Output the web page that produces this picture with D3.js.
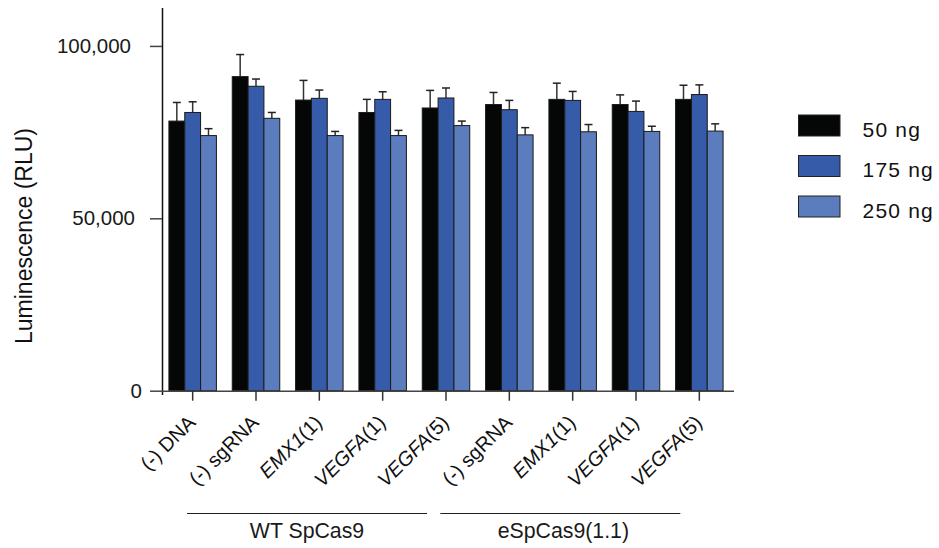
<!DOCTYPE html>
<html><head><meta charset="utf-8">
<script src="https://cdn.jsdelivr.net/npm/d3@7"></script>
<style>body{margin:0;background:#fff;} svg{display:block;}</style>
</head><body>
<svg id="chart" width="939" height="548"></svg>
<script>
const categories = ["(-) DNA","(-) sgRNA","EMX1(1)","VEGFA(1)","VEGFA(5)","(-) sgRNA","EMX1(1)","VEGFA(1)","VEGFA(5)"];
const seriesNames = ["50 ng","175 ng","250 ng"];
const seriesColors = ["#050707","#365ba9","#5b7dbd"];
const values50  = [78200, 91100, 84300, 80700, 82000, 83000, 84500, 83000, 84500];
const values175 = [80700, 88300, 84800, 84500, 84900, 81500, 84200, 81000, 85900];
const values250 = [74000, 79000, 74000, 74000, 76900, 74200, 75100, 75200, 75300];
const err50  = [5400, 6400, 5700, 3800, 5100, 3500, 4700, 2800, 4100];
const err175 = [3100, 2100, 2400, 2200, 2900, 2700, 2600, 3000, 2800];
const err250 = [2000, 1700, 1200, 1500, 1300, 2100, 2100, 1500, 2100];
const yTicks = [0, 50000, 100000];
const groupLabels = ["WT SpCas9","eSpCas9(1.1)"];
const groupFirst = [1, 5];
const groupLast = [4, 8];

const values = [values50, values175, values250];
const errors = [err50, err175, err250];
const font = "'Liberation Sans', Arial, Helvetica, sans-serif";

const svg = d3.select("#chart");
const x0 = d3.scaleBand(d3.range(categories.length), [161, 731]).paddingInner(0.25).paddingOuter(0.125);
const x1 = d3.scaleBand(d3.range(seriesNames.length), [0, x0.bandwidth()]);
const y = d3.scaleLinear([0, 111000], [390.7, 8]);

// bars
const g = svg.append("g");
categories.forEach((c, i) => {
  seriesNames.forEach((s, j) => {
    const v = values[j][i], e = errors[j][i];
    const bx = x0(i) + x1(j);
    const cx = bx + x1.bandwidth() / 2;
    g.append("line").attr("x1", cx).attr("x2", cx).attr("y1", y(v)).attr("y2", y(v + e))
      .attr("stroke", "#333").attr("stroke-width", 1.5);
    g.append("line").attr("x1", cx - 4).attr("x2", cx + 4).attr("y1", y(v + e)).attr("y2", y(v + e))
      .attr("stroke", "#222").attr("stroke-width", 1.5);
    g.append("rect").attr("x", bx).attr("width", x1.bandwidth())
      .attr("y", y(v)).attr("height", y(0) - y(v))
      .attr("fill", seriesColors[j]).attr("stroke", "#1a1a1a").attr("stroke-width", 1);
  });
});

// y axis
const yAxis = svg.append("g").attr("transform", "translate(162,0)")
  .call(d3.axisLeft(y).tickValues(yTicks).tickFormat(d3.format(",")).tickSize(12).tickPadding(19).tickSizeOuter(0));
yAxis.select(".domain").attr("stroke", "#111").attr("stroke-width", 1.5).attr("d", "M0.5,8V395");
yAxis.selectAll(".tick line").attr("stroke", "#444").attr("stroke-width", 1.5);
const labelShift = [11, 4, 0];
yAxis.selectAll(".tick text").attr("font-family", font).attr("font-size", 20.5).attr("fill", "#1a1a1a")
  .attr("dx", (d, i) => labelShift[i]);

// x axis
const xAxis = svg.append("g").attr("transform", `translate(0,${y(0)})`)
  .call(d3.axisBottom(x0).tickSize(10).tickSizeOuter(0).tickFormat(""));
xAxis.select(".domain").attr("stroke", "#444").attr("stroke-width", 1.5).attr("d", `M162,0.5H734`);
xAxis.selectAll(".tick line").attr("stroke", "#333").attr("stroke-width", 1.5);

// category labels
categories.forEach((c, i) => {
  const cx = x0(i) + x0.bandwidth() / 2;
  const t = svg.append("text").attr("font-family", font).attr("font-size", 20).attr("fill", "#111")
    .attr("text-anchor", "end")
    .attr("transform", `translate(${cx + 4},${y(0) + 33}) rotate(-45)`);
  const m = c.match(/^(EMX1|VEGFA)(.*)$/);
  if (m) {
    t.append("tspan").attr("font-style", "italic").text(m[1]);
    t.append("tspan").text(m[2]);
  } else {
    t.text(c);
  }
});

// group brackets
groupLabels.forEach((lab, k) => {
  const xa = x0(groupFirst[k]) + x0.bandwidth() / 2 - 69;
  const xb = x0(groupLast[k]) + x0.bandwidth() / 2 - 19;
  svg.append("line").attr("x1", xa).attr("x2", xb).attr("y1", 513.5).attr("y2", 513.5)
    .attr("stroke", "#222").attr("stroke-width", 1.2);
  svg.append("text").attr("x", (xa + xb) / 2 + 3 * k).attr("y", 538).attr("text-anchor", "middle")
    .attr("font-family", font).attr("font-size", 21.3).attr("fill", "#1a1a1a").text(lab);
});

// y label
svg.append("text").attr("transform", "translate(32,236) rotate(-90)").attr("text-anchor", "middle")
  .attr("font-family", font).attr("font-size", 23).attr("fill", "#111").text("Luminescence (RLU)");

// legend
seriesNames.forEach((s, j) => {
  const ly = 115 + j * 40.5;
  svg.append("rect").attr("x", 798.5).attr("y", ly).attr("width", 41.5).attr("height", 21)
    .attr("fill", seriesColors[j]).attr("stroke", "#222").attr("stroke-width", 1);
  svg.append("text").attr("x", 862.5).attr("y", ly + 21.5).attr("font-family", font).attr("font-size", 21)
    .attr("letter-spacing", 1.2).attr("fill", "#111").text(s);
});
</script>
</body></html>
